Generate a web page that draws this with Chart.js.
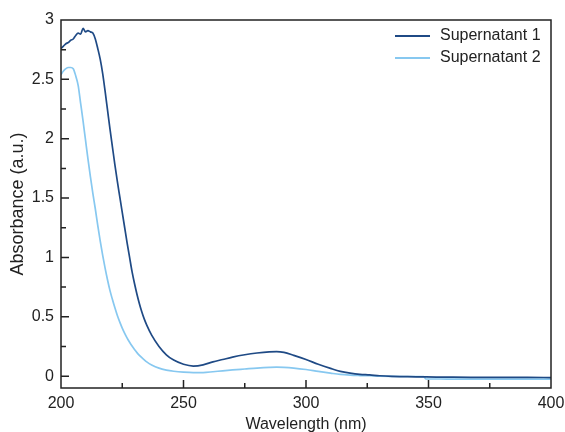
<!DOCTYPE html>
<html>
<head>
<meta charset="utf-8">
<script src="https://cdn.jsdelivr.net/npm/chart.js@4/dist/chart.umd.min.js"></script>
<style>
  html, body { margin: 0; padding: 0; background: #fff; }
  #wrap { width: 565px; height: 432px; }
</style>
</head>
<body>
<div id="wrap"><canvas id="chart" width="565" height="432"></canvas></div>
<script>
// wavelength (nm)
const wavelengths = [200,201,202,203,204,205,206,207,208,209,210,211,212,213,214,215,216,217,218,219,
  220,221,222,223,224,225,226,227,228,229,230,231,232,233,234,235,237,240,243,246,
  250,254,258,262,266,270,275,280,285,288,291,295,300,305,310,314,318,322,326,330,
  335,340,345,348,349,355,360,370,380,390,400];

const supernatant1 = [2.76,2.78,2.80,2.81,2.83,2.84,2.87,2.89,2.88,2.93,2.90,2.91,2.90,2.89,2.84,2.76,2.67,2.55,2.40,2.24,
  2.08,1.93,1.78,1.64,1.51,1.38,1.25,1.12,1.00,0.88,0.78,0.69,0.61,0.54,0.48,0.43,0.345,0.25,0.18,0.135,
  0.10,0.085,0.095,0.12,0.14,0.16,0.18,0.195,0.205,0.207,0.20,0.175,0.14,0.10,0.065,0.04,0.025,0.015,0.01,0.003,
  -0.002,-0.004,-0.006,-0.007,-0.007,-0.008,-0.009,-0.010,-0.011,-0.011,-0.012];

const supernatant2 = [2.54,2.57,2.59,2.60,2.60,2.59,2.53,2.45,2.30,2.15,1.99,1.83,1.68,1.54,1.41,1.27,1.14,1.02,0.91,0.81,
  0.72,0.645,0.575,0.51,0.455,0.405,0.36,0.32,0.285,0.253,0.224,0.198,0.175,0.155,0.137,0.12,0.094,0.067,0.051,0.041,
  0.033,0.029,0.03,0.037,0.045,0.052,0.06,0.068,0.074,0.076,0.074,0.068,0.056,0.04,0.025,0.014,0.008,0.005,0.003,0.0,
  -0.002,-0.003,-0.003,-0.004,-0.024,-0.024,-0.025,-0.025,-0.026,-0.026,-0.026];

const seriesLabels = ['Supernatant 1', 'Supernatant 2'];
const seriesColors = ['#1f4a85', '#87c8f0'];
const xTicks = [200, 250, 300, 350, 400];
const yTicks = [0, 0.5, 1, 1.5, 2, 2.5, 3];

const FONT = '"Liberation Sans", Arial, sans-serif';

function toPoints(ys) {
  return ys.map((y, i) => ({ x: wavelengths[i], y: y }));
}

// frame + inward ticks + legend inside the plot
const framePlugin = {
  id: 'frame',
  afterDraw(chart) {
    const ctx = chart.ctx;
    const a = chart.chartArea;
    const xs = chart.scales.x, ys = chart.scales.y;
    ctx.save();
    ctx.strokeStyle = '#222';
    ctx.lineWidth = 1.5;
    ctx.strokeRect(a.left, a.top, a.right - a.left, a.bottom - a.top);
    ctx.beginPath();
    for (let v = 225; v < 400; v += 25) {
      const px = xs.getPixelForValue(v);
      const len = v % 50 === 0 ? 8 : 5;
      ctx.moveTo(px, a.bottom);
      ctx.lineTo(px, a.bottom - len);
    }
    for (let v = 0; v < 3; v += 0.25) {
      const py = ys.getPixelForValue(v);
      const len = Math.abs(v * 2 - Math.round(v * 2)) < 1e-6 ? 8 : 5;
      ctx.moveTo(a.left, py);
      ctx.lineTo(a.left + len, py);
    }
    ctx.stroke();

    // legend
    ctx.font = '16px ' + FONT;
    ctx.textBaseline = 'middle';
    ctx.fillStyle = '#222';
    chart.data.datasets.forEach((ds, i) => {
      const y = 36 + i * 22;
      ctx.strokeStyle = ds.borderColor;
      ctx.lineWidth = 1.8;
      ctx.beginPath();
      ctx.moveTo(395, y);
      ctx.lineTo(430, y);
      ctx.stroke();
      ctx.fillText(ds.label, 440, y);
    });
    ctx.restore();
  }
};

new Chart(document.getElementById('chart').getContext('2d'), {
  type: 'line',
  data: {
    datasets: [
      { label: seriesLabels[0], data: toPoints(supernatant1), borderColor: seriesColors[0], borderWidth: 1.7, pointRadius: 0, cubicInterpolationMode: 'monotone', fill: false },
      { label: seriesLabels[1], data: toPoints(supernatant2), borderColor: seriesColors[1], borderWidth: 1.7, pointRadius: 0, cubicInterpolationMode: 'monotone', fill: false }
    ]
  },
  options: {
    responsive: false,
    animation: false,
    layout: { padding: { top: 20, right: 14, left: 0, bottom: 0 } },
    plugins: { legend: { display: false }, tooltip: { enabled: false } },
    scales: {
      x: {
        type: 'linear',
        min: 200, max: 400,
        afterBuildTicks(scale) { scale.ticks = xTicks.map(v => ({ value: v })); },
        afterFit(scale) { scale.height = 44; scale.paddingLeft = 0; scale.paddingRight = 0; },
        grid: { display: false, drawTicks: false },
        border: { display: false },
        ticks: { color: '#222', font: { family: FONT, size: 16 }, padding: 6, maxRotation: 0 },
        title: { display: true, text: 'Wavelength (nm)', color: '#222', font: { family: FONT, size: 16 }, padding: { top: 0, bottom: -2 } }
      },
      y: {
        min: -0.1, max: 3,
        afterBuildTicks(scale) { scale.ticks = yTicks.map(v => ({ value: v })); },
        afterFit(scale) { scale.width = 61; scale.paddingTop = 0; scale.paddingBottom = 0; },
        grid: { display: false, drawTicks: false },
        border: { display: false },
        ticks: { color: '#222', font: { family: FONT, size: 16 }, padding: 7, callback: v => String(v) },
        title: { display: true, text: 'Absorbance (a.u.)', color: '#222', font: { family: FONT, size: 18 }, padding: { top: 7.5, bottom: 0 } }
      }
    }
  },
  plugins: [framePlugin]
});
</script>
</body>
</html>
